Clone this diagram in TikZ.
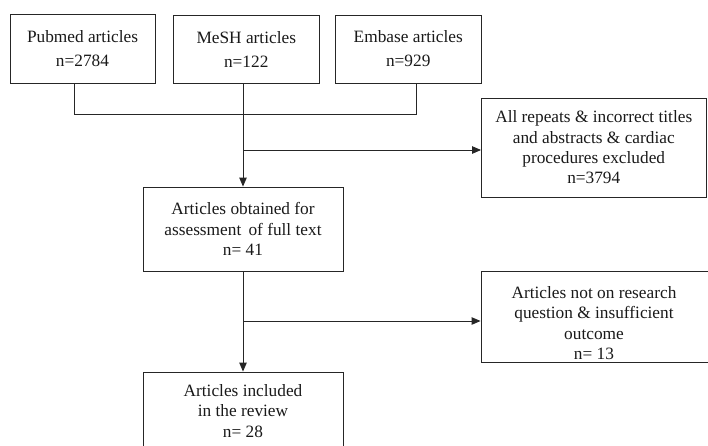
\documentclass[tikz,border=0pt]{standalone}
\usepackage{fontspec}
\setmainfont{Liberation Serif}
\usetikzlibrary{arrows.meta}
\begin{document}
\begin{tikzpicture}[x=1pt,y=-1pt,
  box/.style={draw=black!85, line width=0.9pt, align=center, inner sep=2pt,
    font=\fontsize{17.3}{20.3}\selectfont, text=black!90},
  topbox/.style={box, font=\fontsize{17.3}{24}\selectfont},
  txt/.style={align=center, inner sep=0pt, font=\fontsize{17.3}{20.3}\selectfont, text=black!90},
  conn/.style={draw=black!85, line width=0.9pt},
  arr/.style={conn, -{Triangle[length=9pt,width=7.5pt]}}]
\useasboundingbox (0,0) rectangle (708,445);
\node[topbox, minimum width=145pt, minimum height=69pt] (pub) at (82.5,48.5) {Pubmed articles\\n=2784};
\node[topbox, minimum width=145.5pt, minimum height=68pt] (mesh) at (246.25,49) {MeSH articles\\n=122};
\node[topbox, minimum width=146.5pt, minimum height=68pt] (emb) at (408.25,49) {Embase articles\\n=929};
\node[box, minimum width=224.5pt, minimum height=99pt] (ex1) at (593.75,147.5) {All repeats \& incorrect titles\\and abstracts \& cardiac\\procedures excluded\\n=3794};
\node[box, minimum width=200pt, minimum height=84pt] (obt) at (243,229) {Articles obtained for\\assessment\,\ of full text\\n= 41};
\node[box, minimum width=231pt, minimum height=91pt] (ex2) at (596.5,316.5) {};
\node[txt] (ex2t) at (594,323) {Articles not on research\\question \& insufficient\\outcome\\n= 13};
\node[box, minimum width=200pt, minimum height=78pt] (inc) at (243,411) {Articles included\\in the review\\n= 28};
\coordinate (j) at (243,114);
\coordinate (b1) at (243,150);
\coordinate (b2) at (243,321);
\draw[conn] ([xshift=-8.5pt]pub.south) |- ([xshift=173pt]j);
\draw[conn] ([xshift=-3.25pt]mesh.south) -- (j);
\draw[conn] ([xshift=7.75pt]emb.south) |- (j);
\draw[arr] (j) -- (obt.north);
\draw[arr] (b1) -- (b1 -| ex1.west);
\draw[arr] (obt.south) -- (inc.north);
\draw[arr] (b2) -- (b2 -| ex2.west);
\end{tikzpicture}
\end{document}
